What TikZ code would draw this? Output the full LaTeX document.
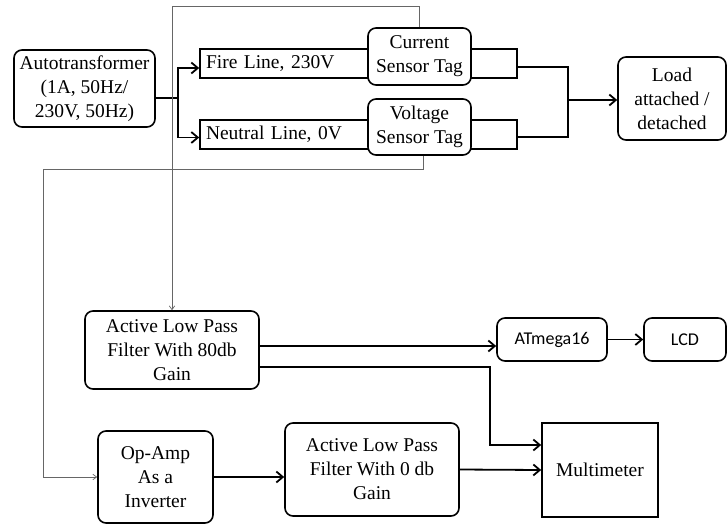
\documentclass[tikz,border=0pt]{standalone}
\usepackage{fontspec}
\setmainfont{Liberation Serif}
\newfontfamily\calfont{Carlito}
\usepackage{tikz}
\usetikzlibrary{arrows, arrows.meta}

\begin{document}
\begin{tikzpicture}[x=1pt, y=-1pt, >={Straight Barb[length=2pt 2.5, width=2pt 5]},
  rbox/.style={draw, line width=1.6pt, rounded corners=8pt, fill=white, align=center,
    inner sep=0pt, font=\fontsize{19.5}{24}\selectfont},
  sbox/.style={draw, line width=1.6pt, fill=white, align=center,
    inner sep=0pt, font=\fontsize{19.5}{24}\selectfont},
  lbox/.style={draw, line width=1.6pt, fill=white, text width=305pt, align=left,
    inner xsep=6pt, inner ysep=0pt, minimum height=29pt, font=\fontsize{19.5}{24}\selectfont},
  cbox/.style={rbox, font=\calfont\fontsize{18}{22}\selectfont},
  thickline/.style={line width=1.8pt},
  thinline/.style={draw=gray!80!black, line width=0.7pt}]
\useasboundingbox (0,0) rectangle (727,525);
% линии питания
\node [lbox] (fire) at (358.5,63.5) {Fire Line, 230V};
\node [lbox] (neutral) at (358.5,134.5) {Neutral Line, 0V};
% блоки
\node [rbox, minimum width=141pt, minimum height=77pt] (auto) at (84.5,88.5) {Autotransformer\\(1A, 50Hz/\\230V, 50Hz)};
\node [rbox, minimum width=103pt, minimum height=57pt] (cur) at (419.5,56.5) {Current\\Sensor Tag};
\node [rbox, minimum width=103pt, minimum height=56pt] (volt) at (419.5,127) {Voltage\\Sensor Tag};
\node [rbox, minimum width=108pt, minimum height=83pt] (load) at (672,98.5) {Load\\attached /\\detached};
\node [rbox, minimum width=174pt, minimum height=78pt] (lpfa) at (172,350) {Active Low Pass\\Filter With 80db\\Gain};
\node [cbox, minimum width=110pt, minimum height=43pt] (atmega) at (552,339.5) {ATmega16};
\node [cbox, minimum width=82pt, minimum height=43pt] (lcd) at (685,339.5) {LCD};
\node [rbox, minimum width=115pt, minimum height=92pt] (opamp) at (155.5,477) {Op-Amp\\As a\\Inverter};
\node [rbox, minimum width=174pt, minimum height=93pt] (lpfb) at (372,469.5) {Active Low Pass\\Filter With 0 db\\Gain};
\node [sbox, minimum width=116pt, minimum height=94pt] (multi) at (600,470) {Multimeter};
% соединения
\coordinate (s) at (178,98);
\coordinate (j) at (568,100);
\draw [thickline] (auto.east |- s) -- (s);
\draw [thickline, ->] (s) |- ([yshift=-4.5pt]fire.west);
\draw [thickline, ->] (s) |- ([yshift=-3pt]neutral.west);
\draw [thickline] ([yshift=-3.5pt]fire.east) -| (j);
\draw [thickline] ([yshift=-2.5pt]neutral.east) -| (j);
\draw [thickline, ->] (j) -- (load.west |- j);
% датчики
\coordinate (k) at (43,477);
\draw [thinline, ->] (cur.north) -- ++(0,-21) -| (lpfa.north);
\draw [thinline, ->] ([xshift=4pt]volt.south) -- ++(0,14) -| (k) -- (opamp.west);
% выходы
\coordinate (q1) at ([yshift=4pt]lpfa.east);
\coordinate (q2) at ([yshift=-17pt]lpfa.east);
\coordinate (m) at (490,445);
\draw [thickline, ->] (q1) -- (q1 -| atmega.west);
\draw [thickline, ->] (atmega) -- (lcd);
\draw [thickline, ->] (q2) -| (m) -- (m -| multi.west);
\draw [thickline, ->] (opamp.east) -- (opamp.east -| lpfb.west);
\draw [thickline, ->] (lpfb.east) -- (multi.west);
\end{tikzpicture}
\end{document}
